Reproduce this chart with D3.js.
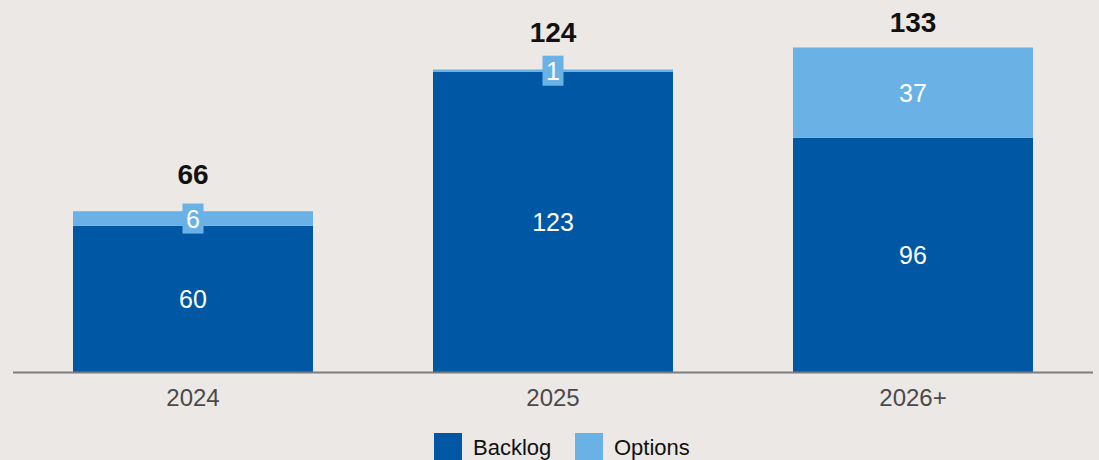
<!DOCTYPE html>
<html>
<head>
<meta charset="utf-8">
<script src="https://cdn.jsdelivr.net/npm/d3@7"></script>
<style>
  body { margin: 0; background: #ebe8e5; }
  text { font-family: "Liberation Sans", Arial, sans-serif; }
</style>
</head>
<body>
<div id="chart"></div>
<script>
// chart values
const years = ["2024", "2025", "2026+"];
const backlog = [60, 123, 96];
const options = [6, 1, 37];
const seriesNames = ["Backlog", "Options"];
const seriesColors = ["#0057a4", "#6ab2e6"];

function draw() {
    const width = 1099, height = 460;
    const baseY = 372.5;

    const svg = d3.select("#chart")
        .html("")
        .append("svg")
        .attr("width", width)
        .attr("height", height);

    svg.append("rect")
        .attr("width", width)
        .attr("height", height)
        .attr("fill", "#ebe8e5");

    const rows = years.map((y, i) => ({ year: y, Backlog: backlog[i], Options: options[i] }));
    const stacked = d3.stack().keys(seriesNames)(rows);

    const x = d3.scaleBand()
        .domain(years)
        .range([13, 1093])
        .paddingInner(1 / 3)
        .paddingOuter(1 / 6);

    const y = d3.scaleLinear()
        .domain([0, 133])
        .range([baseY, 47.5]);

    const color = d3.scaleOrdinal().domain(seriesNames).range(seriesColors);

    // bars
    const layers = svg.selectAll(".layer")
        .data(stacked)
        .enter().append("g")
        .attr("class", "layer")
        .attr("fill", d => color(d.key));

    layers.selectAll("rect")
        .data(d => d)
        .enter().append("rect")
        .attr("x", d => x(d.data.year))
        .attr("y", d => y(d[1]))
        .attr("width", x.bandwidth())
        .attr("height", d => y(d[0]) - y(d[1]));

    // segment labels
    stacked.forEach(layer => {
        layer.forEach(d => {
            const v = d[1] - d[0];
            const cx = x(d.data.year) + x.bandwidth() / 2;
            const cy = (y(d[0]) + y(d[1])) / 2;
            const h = y(d[0]) - y(d[1]);
            const g = svg.append("g");
            if (h < 30) {
                // small segment: put a little box behind the number
                const bw = String(v).length * 14 + 7;
                g.append("rect")
                    .attr("x", cx - bw / 2)
                    .attr("y", cy - 15)
                    .attr("width", bw)
                    .attr("height", 30)
                    .attr("fill", color(layer.key));
            }
            g.append("text")
                .attr("x", cx)
                .attr("y", cy)
                .attr("dy", "0.36em")
                .attr("text-anchor", "middle")
                .style("font-size", "25px")
                .style("fill", "#fff")
                .text(v);
        });
    });

    // totals (kept inside the top edge)
    svg.selectAll(".total")
        .data(rows)
        .enter().append("text")
        .attr("class", "total")
        .attr("x", d => x(d.year) + x.bandwidth() / 2)
        .attr("y", d => Math.max(y(d.Backlog + d.Options) - 27, 32))
        .attr("text-anchor", "middle")
        .style("font-size", "28px")
        .style("font-weight", "bold")
        .style("fill", "#111")
        .text(d => d.Backlog + d.Options);

    // x axis
    const xAxis = svg.append("g")
        .attr("transform", `translate(0,${baseY})`)
        .call(d3.axisBottom(x).tickSize(0).tickPadding(16));
    xAxis.select(".domain")
        .attr("d", "M13,0H1093")
        .attr("stroke", "#7f7c79")
        .attr("stroke-width", 2);
    xAxis.selectAll("text")
        .style("font-size", "24px")
        .style("fill", "#4a4a4a")
        .style("font-family", "'Liberation Sans', Arial, sans-serif");

    // legend
    const legendX = [434, 575];
    const legend = svg.selectAll(".legend")
        .data(seriesNames)
        .enter().append("g")
        .attr("class", "legend")
        .attr("transform", (d, i) => `translate(${legendX[i]},433)`);
    legend.append("rect")
        .attr("width", 28)
        .attr("height", 28)
        .attr("fill", d => color(d));
    legend.append("text")
        .attr("x", 39)
        .attr("y", 22)
        .style("font-size", "22px")
        .style("fill", "#111")
        .text(d => d);
}

draw();
</script>
</body>
</html>
